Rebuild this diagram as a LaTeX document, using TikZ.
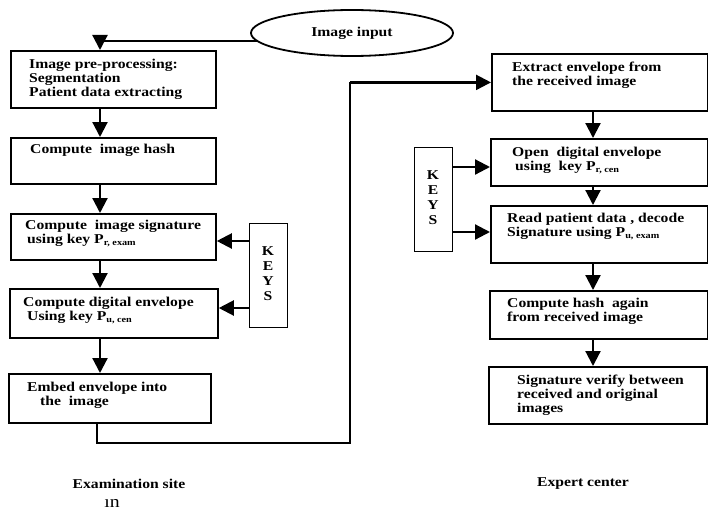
\documentclass[tikz,border=0pt]{standalone}
\usepackage{fontspec}
\setmainfont{Liberation Serif}[FakeStretch=1.16]
\usetikzlibrary{arrows.meta,shapes.geometric}

\newcommand{\Pkey}[1]{P\raisebox{-2.5pt}{\fontsize{8.8}{8.8}\selectfont #1}}

\tikzset{
	flowbox/.style={draw, line width=1.8pt, rectangle, inner sep=0pt, anchor=north west},
	flowtext/.style={anchor=north west, inner sep=0pt, align=left, font=\bfseries\fontsize{13.5}{13.8}\selectfont},
	keybox/.style={draw, line width=1.4pt, inner sep=0pt, anchor=north west, minimum width=38pt, minimum height=104pt},
	keytext/.style={anchor=north, inner sep=0pt, align=center, font=\bfseries\fontsize{13.5}{15.2}\selectfont},
	flowarrow/.style={line width=2.2pt, -{Triangle[length=15pt,width=15pt]}},
	sitetext/.style={inner sep=0pt, font=\bfseries\fontsize{13.5}{14}\selectfont},
}

\begin{document}
\begin{tikzpicture}[x=1pt,y=-1pt]
		\useasboundingbox (0,0) rectangle (708,511);
		% input
		\node[draw, ellipse, line width=1.8pt, minimum width=202pt, minimum height=46pt, inner sep=0pt, font=\bfseries\fontsize{13.5}{14}\selectfont] (input) at (352,33) {Image input\\[6pt]};
		% examination site column
		\node[flowbox, minimum width=205pt, minimum height=57pt] (pre) at (10,50) {};
		\node[flowbox, minimum width=205pt, minimum height=46pt] (hash) at (10,137) {};
		\node[flowbox, minimum width=205pt, minimum height=46pt] (sign) at (10,213) {};
		\node[flowbox, minimum width=208pt, minimum height=49pt] (env) at (9,288) {};
		\node[flowbox, minimum width=202pt, minimum height=49pt] (embed) at (8,373) {};
		\node[flowtext] (tpre) at (29,59) {Image pre-processing:\\Segmentation\\Patient data extracting};
		\node[flowtext] (thash) at (30,144) {Compute\ \ image hash};
		\node[flowtext] (tsign) at (25,220) {Compute\ \ image signature\\\hspace{2pt}using key \Pkey{r, exam}};
		\node[flowtext] (tenv) at (23,297) {Compute digital envelope\\\hspace{4pt}Using key \Pkey{u, cen}};
		\node[flowtext] (tembed) at (27,382) {Embed envelope into\\\hspace{13pt}the\ \ image};
		% expert center column
		\node[flowbox, minimum width=216pt, minimum height=57pt] (extr) at (491,53) {};
		\node[flowbox, minimum width=217pt, minimum height=47pt] (open) at (490,138) {};
		\node[flowbox, minimum width=217pt, minimum height=57pt] (read) at (490,205) {};
		\node[flowbox, minimum width=218pt, minimum height=48pt] (rehash) at (489,290) {};
		\node[flowbox, minimum width=218pt, minimum height=57pt] (verify) at (488,366) {};
		\node[flowtext] (textr) at (512,62) {Extract envelope from\\the received image};
		\node[flowtext] (topen) at (512,147) {Open\ \ digital envelope\\\hspace{3pt}using\ \ key \Pkey{r, cen}};
		\node[flowtext] (tread) at (507,213) {Read patient data , decode\\Signature using \Pkey{u, exam}};
		\node[flowtext] (trehash) at (507,298) {Compute hash\ \ again\\from received image};
		\node[flowtext] (tverify) at (517,375) {Signature verify between\\received and original\\images};
		% keys
		\node[keybox] (keysA) at (249,223) {};
		\node[keytext] (tkeysA) at (268,246) {K\\E\\Y\\S};
		\node[keybox] (keysB) at (414,147) {};
		\node[keytext] (tkeysB) at (433,170) {K\\E\\Y\\S};
		% site labels
		\node[sitetext] (exam) at (129,484) {Examination site};
		\node[inner sep=0pt, font=\fontsize{17}{17}\selectfont] (inword) at (112,503) {\i n};
		\node[sitetext] (expert) at (583,484) {Expert center};
		% connectors
		\coordinate (lx) at (100,0);
		\coordinate (rx) at (593,0);
		\coordinate (loopx) at (350,0);
		\draw[flowarrow] (input.185) -| (pre.north -| lx);
		\foreach \a/\b in {pre/hash,hash/sign,sign/env,env/embed}{
			\draw[flowarrow] (\a.south -| lx) -- (\b.north -| lx);
		}
		\foreach \a/\b in {extr/open,open/read,read/rehash,rehash/verify}{
			\draw[flowarrow] (\a.south -| rx) -- (\b.north -| rx);
		}
		\draw[line width=2pt] (embed.south -| 97,0) -- ++(0,19) -| (extr.west -| loopx);
		\draw[flowarrow] (extr.west -| loopx) -- (extr.west);
		\draw[flowarrow] (keysA.west |- 0,241) -- (sign.east |- 0,241);
		\draw[flowarrow] (keysA.west |- 0,308) -- (env.east |- 0,308);
		\draw[flowarrow] (keysB.east |- 0,167) -- (open.west |- 0,167);
		\draw[flowarrow] (keysB.east |- 0,232) -- (read.west |- 0,232);
	\end{tikzpicture}
\end{document}
